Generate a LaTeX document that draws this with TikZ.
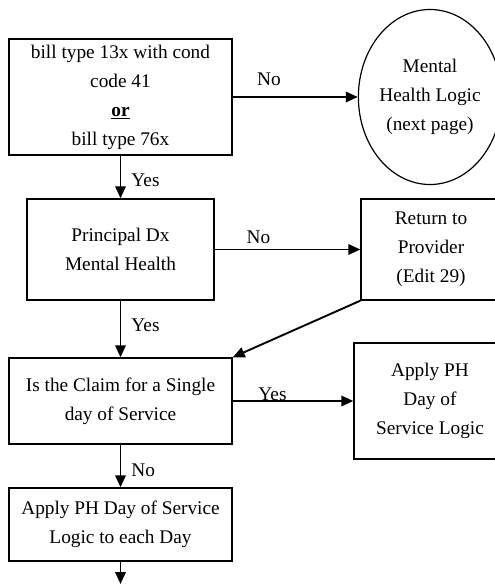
\documentclass[tikz,border=0pt]{standalone}
\usepackage{fontspec}
\setmainfont{Liberation Serif}
\usetikzlibrary{arrows.meta,shapes.geometric}

\begin{document}
\begin{tikzpicture}[x=1pt, y=-1pt, >={Triangle[length=12pt,width=10.5pt]},
  box/.style={draw, line width=1.4pt, align=center, inner sep=0pt,
    font=\fontsize{19.3}{29}\selectfont},
  lbl/.style={font=\fontsize{19.3}{22}\selectfont, inner sep=2pt},
  arr/.style={->, line width=1.9pt}]
  \clip (0,0) rectangle (495,584);

  % left column
  \node[box, minimum width=223pt, minimum height=116pt] (bt) at (120.5,97)
    {bill type 13x with cond\\ code 41\\ \textbf{\underline{or}}\\ bill type 76x};
  \node[box, minimum width=187pt, minimum height=101pt] (dx) at (120.5,249.5)
    {Principal Dx\\ Mental Health};
  \node[box, minimum width=223pt, minimum height=86pt] (sd) at (120.5,401)
    {Is the Claim for a Single\\ day of Service};
  \node[box, minimum width=223pt, minimum height=73pt] (ed) at (120.5,524.5)
    {Apply PH Day of Service\\ Logic to each Day};
  \coordinate (out) at (120.5,584);

  % right column
  \node[box, ellipse, line width=1.2pt, minimum width=142pt, minimum height=175pt] (mh) at (430,97)
    {Mental\\ Health Logic\\ (next page)};
  \node[box, minimum width=140pt, minimum height=101pt] (rp) at (431,249.5)
    {Return to\\ Provider\\ (Edit 29)};
  \node[box, minimum width=152pt, minimum height=116pt] (ph) at (430,401)
    {Apply PH\\ Day of\\ Service Logic};

  % connectors
  \draw[arr] (bt) -- node[lbl, pos=.29, anchor=base, yshift=12pt] (n1) {No} (mh);
  \draw[arr] (bt) -- node[lbl, pos=.72, anchor=base west, xshift=8pt] (y1) {Yes} (dx);
  \draw[arr] (dx) -- node[lbl, pos=.3, anchor=base, yshift=6pt] (n2) {No} (rp);
  \draw[arr] (dx) -- node[lbl, pos=.55, anchor=base west, xshift=8pt] (y2) {Yes} (sd);
  \draw[arr] (rp.south west) -- (sd.north east);
  \draw[arr] (sd) -- node[lbl, pos=.33, anchor=base, yshift=1pt] (y3) {Yes} (ph);
  \draw[arr] (sd) -- node[lbl, pos=.74, anchor=base west, xshift=8pt] (n3) {No} (ed);
  \draw[arr] (ed) -- (out);

\end{tikzpicture}
\end{document}
